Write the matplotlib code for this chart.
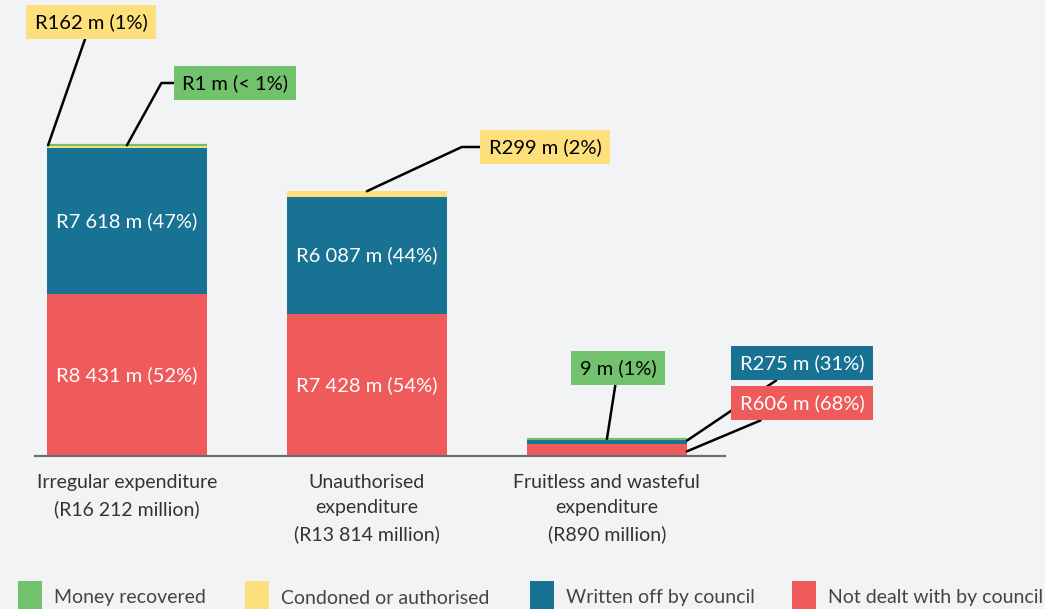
import matplotlib
matplotlib.use("Agg")
import matplotlib.pyplot as plt
from matplotlib.patches import Rectangle
import numpy as np

plt.rcParams['font.family'] = ['Lato', 'DejaVu Sans']

categories = ["Irregular expenditure\n(R16 212 million)",
              "Unauthorised\nexpenditure\n(R13 814 million)",
              "Fruitless and wasteful\nexpenditure\n(R890 million)"]
series_names = ["Not dealt with by council", "Written off by council",
                "Condoned or authorised", "Money recovered"]
not_dealt = [8431, 7428, 606]
written_off = [7618, 6087, 275]
condoned = [162, 299, 0]
recovered = [1, 0, 9]
colors = {"Not dealt with by council": "#ef5a5b",
          "Written off by council": "#177293",
          "Condoned or authorised": "#fde07b",
          "Money recovered": "#72c26d"}
inside_labels = {0: ["R8 431 m (52%)", "R7 618 m (47%)"],
                 1: ["R7 428 m (54%)", "R6 087 m (44%)"]}

BG = "#f2f3f5"
W, H = 1045, 609
FS = 14.5
fig = plt.figure(figsize=(W / 100, H / 100), dpi=100, facecolor=BG)
ax = fig.add_axes([35 / W, (H - 456) / H, 690 / W, 456 / H])
ax.set_facecolor(BG)

x = np.arange(len(categories))
bw = 0.667
stack = [not_dealt, written_off, condoned, recovered]
bottom = np.zeros(len(categories))
for name, vals in zip(series_names, stack):
    vals = np.array(vals)
    if name == "Money recovered":
        # thin segments get a visible outline strip
        ec = [colors[name] if v > 0 else "none" for v in vals]
        ax.bar(x, vals, bw, bottom=bottom, color=colors[name], edgecolor=ec,
               linewidth=1.6, zorder=2)
    else:
        ax.bar(x, vals, bw, bottom=bottom, color=colors[name], linewidth=0, zorder=2)
    bottom += vals

ax.set_xlim(-0.383, 2.492)
ax.set_ylim(0, 23790)
for s in ["top", "left", "right"]:
    ax.spines[s].set_visible(False)
ax.spines["bottom"].set_color("#6e6e6e")
ax.spines["bottom"].set_linewidth(1.6)
ax.spines["bottom"].set_zorder(4)
ax.set_yticks([])
ax.set_xticks(x)
ax.set_xticklabels(categories, fontsize=14, color="#333333", linespacing=1.6)
ax.tick_params(axis="x", length=0, pad=13)

# inside labels
for i, labs in inside_labels.items():
    nd, wo = not_dealt[i], written_off[i]
    ax.text(x[i], nd / 2, labs[0], ha="center", va="center", color="white", fontsize=FS, zorder=3)
    ax.text(x[i], nd + wo / 2, labs[1], ha="center", va="center", color="white", fontsize=FS, zorder=3)

def px2data(px, py):
    inv = ax.transData.inverted()
    return inv.transform((px, H - py))

fig.canvas.draw()

def callout(text, xy, txt_px, fc, tc, conn="arc3"):
    tx, ty = px2data(*txt_px)
    ax.annotate(text, xy=xy, xytext=(tx, ty), textcoords="data",
                ha="center", va="center", fontsize=FS, color=tc, zorder=5,
                bbox=dict(boxstyle="square,pad=0.42", fc=fc, ec="none"),
                arrowprops=dict(arrowstyle="-", color="black", lw=1.8,
                                shrinkA=0, shrinkB=0, connectionstyle=conn),
                annotation_clip=False)

tot = [a + b + c + d for a, b, c, d in zip(not_dealt, written_off, condoned, recovered)]
# Irregular
callout("R162 m (1%)", (x[0] - bw / 2 + 0.005, not_dealt[0] + written_off[0] + condoned[0]),
        (91, 22), colors["Condoned or authorised"], "black")
callout("R1 m (< 1%)", (x[0], tot[0]), (235, 83), colors["Money recovered"], "black",
        conn="angle,angleA=0,angleB=61,rad=0")
# Unauthorised
callout("R299 m (2%)", (x[1], tot[1]), (545, 147), colors["Condoned or authorised"], "black",
        conn="angle,angleA=0,angleB=25,rad=0")
# Fruitless
callout("9 m (1%)", (x[2], tot[2]), (618, 368), colors["Money recovered"], "black")
callout("R275 m (31%)", (x[2] + bw / 2, not_dealt[2] + written_off[2] / 2 + 60), (802, 363),
        colors["Written off by council"], "white")
callout("R606 m (68%)", (x[2] + bw / 2, not_dealt[2] / 2 - 60), (802, 403),
        colors["Not dealt with by council"], "white")

# legend (manual)
leg_items = ["Money recovered", "Condoned or authorised", "Written off by council",
             "Not dealt with by council"]
leg_x = [18, 245, 530, 792]
for name, lx in zip(leg_items, leg_x):
    fig.add_artist(Rectangle((lx / W, 0), 24 / W, 28 / H, transform=fig.transFigure,
                             facecolor=colors[name], edgecolor="none"))
    fig.text((lx + 36) / W, (H - 598) / H, name, fontsize=14, color="#444444",
             ha="left", va="center")

fig.savefig("out.png", dpi=100, facecolor=BG)
